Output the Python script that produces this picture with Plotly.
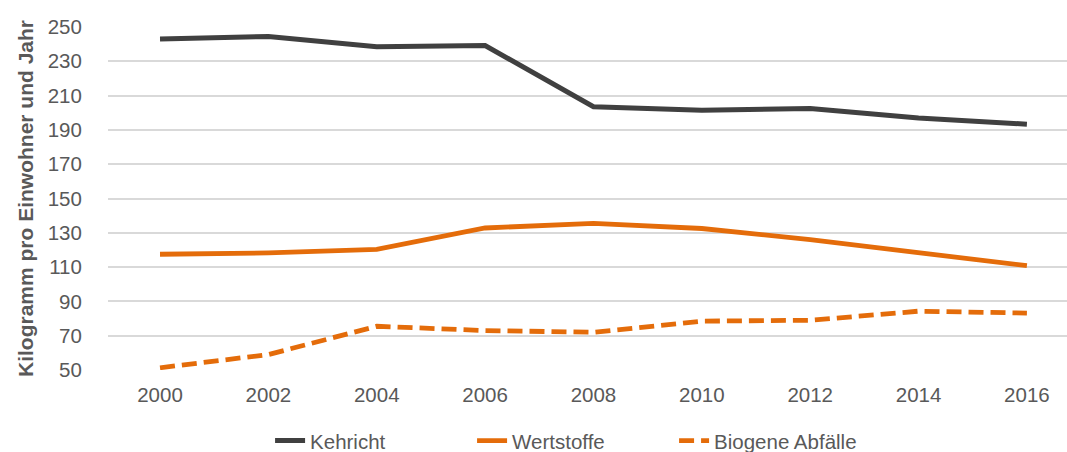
import plotly.graph_objects as go

years = [2000, 2002, 2004, 2006, 2008, 2010, 2012, 2014, 2016]
kehricht = [243, 244.5, 238.5, 239.2, 203.5, 201.5, 202.5, 197, 193.3]
wertstoffe = [117.5, 118.3, 120.3, 132.8, 135.5, 132.5, 126, 118.5, 110.8]
biogene = [51.3, 59, 75.5, 73, 72, 78.5, 79, 84.3, 83.2]
y_ticks = [50, 70, 90, 110, 130, 150, 170, 190, 210, 230, 250]

DARK = "#404040"
ORANGE = "#E46C0A"
TEXT = "#595959"
FONT = "Liberation Sans, Arial, sans-serif"

fig = go.Figure()
fig.add_trace(go.Scatter(x=years, y=kehricht, name="Kehricht", mode="lines",
                         line=dict(color=DARK, width=5)))
fig.add_trace(go.Scatter(x=years, y=wertstoffe, name="Wertstoffe", mode="lines",
                         line=dict(color=ORANGE, width=4.8)))
fig.add_trace(go.Scatter(x=years, y=biogene, name="Biogene Abfälle", mode="lines",
                         line=dict(color=ORANGE, width=4.8, dash="15px,7px")))

fig.update_layout(
    width=1067, height=452,
    margin=dict(l=108, r=0, t=27, b=82),
    paper_bgcolor="white", plot_bgcolor="white",
    font=dict(family=FONT, color=TEXT, size=20),
    showlegend=True,
    legend=dict(orientation="h", xref="paper", yref="container",
                x=0.169, xanchor="left", y=0.025, yanchor="middle",
                font=dict(size=20.5, color=TEXT), entrywidth=157, entrywidthmode="pixels",
                traceorder="normal", bgcolor="rgba(0,0,0,0)"),
    xaxis=dict(range=[1999.04, 2016.74], tickmode="array", tickvals=years,
               ticktext=[str(y) for y in years], showgrid=False, zeroline=False,
               showline=False, ticks="", ticklabelstandoff=10,
               tickfont=dict(size=20.5, color=TEXT)),
    yaxis=dict(range=[50, 250], tickmode="array", tickvals=y_ticks,
               showgrid=True, gridcolor="#d9d9d9", gridwidth=1.5, zeroline=False,
               showline=False, ticks="outside", ticklen=21, tickcolor="rgba(0,0,0,0)",
               tickfont=dict(size=20.5, color=TEXT),
               title=dict(text="<b>Kilogramm pro Einwohner und Jahr</b>",
                          font=dict(size=21, color=TEXT), standoff=8)),
)

fig.write_html("out.html", config={"displayModeBar": False},
               post_script="document.body.style.margin='0';document.body.style.overflow='hidden';")
